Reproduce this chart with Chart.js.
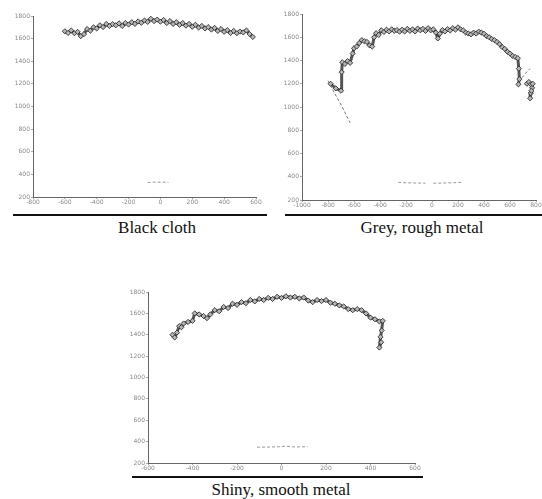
<!DOCTYPE html>
<html>
<head>
<meta charset="utf-8">
<script src="https://cdn.jsdelivr.net/npm/chart.js@4.4.0/dist/chart.umd.min.js"></script>
<style>
  body { margin: 0; background: #fff; width: 542px; height: 499px; position: relative; overflow: hidden; }
  .box { position: absolute; }
  .rule { position: absolute; height: 2px; background: #111; }
  .cap { position: absolute; font-family: "Liberation Serif", "Times New Roman", serif; font-size: 17px; line-height: 17px; color: #111; white-space: nowrap; transform: translateX(-50%); }
</style>
</head>
<body>
<div class="box" style="left:0;top:0;width:270px;height:210px"><canvas id="cloth"></canvas></div>
<div class="box" style="left:270px;top:0;width:272px;height:212px"><canvas id="grey"></canvas></div>
<div class="box" style="left:120px;top:270px;width:310px;height:205px"><canvas id="shiny"></canvas></div>

<div class="rule" style="left:13px;top:214px;width:254px"></div>
<div class="cap" style="left:157px;top:219px">Black cloth</div>
<div class="rule" style="left:285px;top:214px;width:257px"></div>
<div class="cap" style="left:422px;top:219px">Grey, rough metal</div>
<div class="rule" style="left:132px;top:476px;width:291px"></div>
<div class="cap" style="left:281px;top:481px">Shiny, smooth metal</div>

<script>
// y axis is the same on all three panels
const yTicks = [200, 1800, 200];

// Black cloth
const clothX = [-600,-580,-560,-540,-520,-500,-480,-460,-440,-420,-400,-380,-360,-340,-320,-300,-280,-260,-240,-220,-200,-180,-160,-140,-120,-100,-80,-60,-40,-20,0,20,40,60,80,100,120,140,160,180,200,220,240,260,280,300,320,340,360,380,400,420,440,460,480,500,520,540,560,580];
const clothY = [1665,1650,1672,1648,1660,1622,1640,1685,1670,1700,1690,1718,1702,1730,1712,1728,1718,1735,1712,1738,1725,1745,1730,1752,1740,1760,1748,1775,1755,1768,1750,1765,1738,1755,1730,1745,1722,1738,1715,1730,1705,1722,1698,1712,1690,1702,1680,1695,1668,1685,1660,1675,1650,1668,1648,1662,1655,1672,1640,1615];
const clothLowX = [-80,-50,-20,10,50];
const clothLowY = [328,332,330,331,329];

// Grey, rough metal
const greyX = [-780,-740,-700,-695,-690,-670,-650,-630,-610,-600,-580,-560,-540,-520,-500,-480,-460,-445,-430,-410,-390,-370,-350,-330,-310,-290,-270,-250,-230,-210,-190,-170,-150,-130,-110,-90,-70,-50,-30,-10,10,30,45,60,80,100,120,140,160,180,200,220,240,260,280,300,320,340,360,380,400,420,440,460,480,500,520,540,560,580,600,620,640,660,668,672,665,null,730,745,760,770,760,755,765,775];
const greyY = [1200,1160,1140,1300,1385,1370,1395,1380,1460,1505,1520,1550,1575,1565,1560,1530,1520,1600,1635,1620,1660,1645,1665,1650,1668,1655,1662,1648,1665,1650,1672,1655,1668,1650,1675,1660,1672,1655,1678,1660,1668,1640,1590,1630,1662,1650,1670,1658,1678,1665,1685,1668,1660,1640,1632,1625,1640,1632,1648,1640,1630,1610,1600,1585,1575,1560,1540,1515,1500,1475,1460,1440,1430,1420,1330,1240,1195,null,1200,1215,1195,1165,1120,1075,1140,1200];
const greyThinX = [-800,-760,-720,-690,-660,-630,null,692,720,754];
const greyThinY = [1226,1140,1060,1000,930,864,null,1252,1290,1330];
const greyLowX = [-260,-200,-120,-50,null,10,80,150,230];
const greyLowY = [352,348,346,345,null,344,346,348,352];

// Shiny, smooth metal
const shinyX = [-490,-480,-470,-460,-450,-440,-420,-400,-390,-370,-350,-335,-320,-300,-280,-260,-240,-220,-200,-180,-160,-140,-120,-100,-80,-60,-40,-20,0,20,40,60,80,100,120,140,160,180,200,220,240,260,280,300,320,340,360,380,400,420,440,455,450,445,440,448];
const shinyY = [1400,1375,1420,1480,1470,1505,1520,1530,1600,1590,1575,1555,1590,1630,1620,1660,1650,1690,1680,1705,1695,1725,1712,1735,1725,1745,1735,1755,1745,1760,1748,1755,1740,1748,1720,1705,1725,1715,1725,1700,1690,1675,1665,1640,1630,1640,1630,1600,1560,1545,1525,1530,1440,1380,1280,1330];
const shinyLowX = [-110,-60,-10,20,40,70,117];
const shinyLowY = [348,349,352,358,352,350,353];

function pts(xs, ys) {
    return xs.map(function (x, i) {
        return x === null ? { x: null, y: null } : { x: x, y: ys[i] };
    });
}

function band(xs, ys) {
    return {
        data: pts(xs, ys),
        showLine: true,
        spanGaps: false,
        borderColor: '#555',
        borderWidth: 3,
        borderJoinStyle: 'round',
        borderCapStyle: 'round',
        pointStyle: 'rectRot',
        pointRadius: 2.6,
        pointBorderWidth: 0.8,
        pointBorderColor: '#222',
        pointBackgroundColor: '#b5b5b5'
    };
}

function thin(xs, ys, color) {
    return {
        data: pts(xs, ys),
        showLine: true,
        spanGaps: false,
        borderColor: color,
        borderWidth: 1,
        borderDash: [3, 2],
        pointRadius: 0
    };
}

function plain(v) { return String(v); }

function makeChart(id, datasets, xMin, xMax, yWidth, xHeight, pad) {
    const tickFont = { family: 'DejaVu Sans', size: 6 };
    return new Chart(document.getElementById(id), {
        type: 'scatter',
        data: { datasets: datasets },
        options: {
            responsive: true,
            maintainAspectRatio: false,
            animation: false,
            layout: { padding: pad },
            plugins: { legend: { display: false }, tooltip: { enabled: false } },
            scales: {
                x: {
                    type: 'linear',
                    min: xMin,
                    max: xMax,
                    ticks: { stepSize: 200, font: tickFont, color: '#888', padding: 0, maxRotation: 0, callback: plain },
                    grid: { drawOnChartArea: false, tickLength: 2, color: '#aaa' },
                    border: { display: true, dash: [1, 2], color: '#666' },
                    afterFit: function (scale) { scale.height = xHeight; }
                },
                y: {
                    min: yTicks[0],
                    max: yTicks[1],
                    ticks: { stepSize: yTicks[2], font: tickFont, color: '#888', padding: 1, callback: plain },
                    grid: { drawOnChartArea: false, tickLength: 2, color: '#aaa' },
                    border: { display: true, dash: [1, 2], color: '#666' },
                    afterFit: function (scale) { scale.width = yWidth; }
                }
            }
        }
    });
}

makeChart('cloth',
    [band(clothX, clothY), thin(clothLowX, clothLowY, '#999')],
    -800, 600, 33, 13, { top: 16, right: 14, left: 0, bottom: 0 });

makeChart('grey',
    [band(greyX, greyY), thin(greyThinX, greyThinY, '#777'), thin(greyLowX, greyLowY, '#999')],
    -1000, 800, 32, 12, { top: 14, right: 6, left: 0, bottom: 0 });

makeChart('shiny',
    [band(shinyX, shinyY), thin(shinyLowX, shinyLowY, '#999')],
    -600, 600, 28, 12, { top: 22, right: 15, left: 0, bottom: 0 });
</script>
</body>
</html>
